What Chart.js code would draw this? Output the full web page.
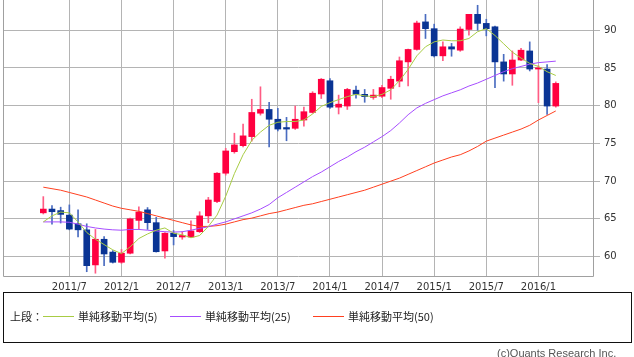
<!DOCTYPE html>
<html><head><meta charset="utf-8">
<script src="https://cdn.jsdelivr.net/npm/chart.js@4"></script>
<style>
body{margin:0;background:#fff;}
#wrap{position:relative;width:634px;height:357px;overflow:hidden;background:#fff;}
#c{position:absolute;left:0;top:0;}
#lbox{position:absolute;left:3px;top:292px;width:627px;height:49px;border:1px solid #111;}
.t{position:absolute;top:308px;font-family:"Noto Sans CJK JP","Noto Sans";font-size:11px;line-height:16px;color:#222;white-space:nowrap;}
.ln{position:absolute;top:316px;height:1px;width:31px;}
#copy{position:absolute;left:497px;top:347px;font-family:"Liberation Sans";font-size:11px;color:#555;white-space:nowrap;}
</style></head>
<body><div id="wrap">
<canvas id="c" width="634" height="295"></canvas>
<div id="lbox"></div>
<div class="t" style="left:10px">上段：</div>
<div class="ln" style="left:43px;background:#a8cc44"></div>
<div class="t" style="left:78px">単純移動平均(5)</div>
<div class="ln" style="left:170px;background:#a64dff"></div>
<div class="t" style="left:205px">単純移動平均(25)</div>
<div class="ln" style="left:313px;background:#ff4020"></div>
<div class="t" style="left:348px">単純移動平均(50)</div>
<div id="copy">(c)Quants Research Inc.</div>
</div>
<script>
const months = ['2011/4','2011/5','2011/6','2011/7','2011/8','2011/9','2011/10','2011/11','2011/12',
'2012/1','2012/2','2012/3','2012/4','2012/5','2012/6','2012/7','2012/8','2012/9','2012/10','2012/11','2012/12',
'2013/1','2013/2','2013/3','2013/4','2013/5','2013/6','2013/7','2013/8','2013/9','2013/10','2013/11','2013/12',
'2014/1','2014/2','2014/3','2014/4','2014/5','2014/6','2014/7','2014/8','2014/9','2014/10','2014/11','2014/12',
'2015/1','2015/2','2015/3','2015/4','2015/5','2015/6','2015/7','2015/8','2015/9','2015/10','2015/11','2015/12',
'2016/1','2016/2','2016/3'];
const openP  = [65.8,66.3,66.1,65.5,64.35,63.55,58.9,62.3,60.6,59.25,60.45,64.8,66.2,64.5,60.75,63.1,62.6,62.6,63.3,65.4,67.3,71.05,73.9,74.7,75.9,79.0,79.5,78.2,77.1,77.0,78.1,79.1,81.55,83.3,79.8,79.95,82.05,81.5,81.1,81.25,82.3,83.25,85.8,87.45,91.1,90.2,86.6,87.8,87.35,90.1,92.1,90.9,90.45,85.8,84.2,86.05,87.25,84.85,84.85,79.95];
const highP  = [67.95,66.75,66.55,66.85,66.2,64.35,63.6,62.65,60.8,60.95,65.1,66.6,66.5,65.2,63.2,63.45,63.3,64.75,65.95,67.85,71.15,74.35,76.35,77.55,80.85,82.5,80.45,79.65,78.45,79.95,79.8,81.85,83.6,83.6,81.4,82.3,82.6,82.15,82.15,82.7,83.9,86.45,87.5,91.2,92.1,90.8,88.45,88.25,90.45,92.1,93.3,91.45,90.55,86.8,87.25,87.6,88.45,85.3,85.45,83.15];
const lowP   = [65.65,64.3,64.45,63.55,62.6,58.0,57.8,58.8,59.15,59.1,60.35,63.6,63.6,60.6,59.8,61.55,62.3,62.5,63.2,64.5,67.15,70.8,73.7,74.55,75.3,78.75,74.55,76.65,75.35,76.85,77.3,79.0,80.95,79.65,78.9,79.5,81.0,80.45,80.85,81.05,80.85,82.5,82.6,87.35,88.9,86.45,85.95,86.55,87.2,89.35,90.0,89.25,82.4,83.25,82.7,85.95,84.6,80.4,78.85,79.8];
const closeP = [66.3,65.95,65.6,63.65,63.55,58.8,62.3,60.35,59.25,60.45,65.0,65.9,64.5,60.65,63.1,62.65,62.8,63.4,65.4,67.5,71.05,74.0,74.8,76.0,79.1,79.5,78.2,76.9,76.9,78.2,79.2,81.65,83.5,79.8,80.2,82.15,81.5,81.2,81.4,82.4,83.5,85.95,87.45,90.95,90.2,86.6,87.8,87.5,90.15,92.1,90.9,90.2,85.8,84.2,86.05,87.35,84.85,85.0,79.95,82.95];
const ma5  = [64.6,65.4,65.9,65.8,64.6,63.2,62.3,61.6,60.9,60.4,61.3,62.4,63.0,63.5,63.8,63.1,62.9,62.5,62.8,64.0,65.5,68.0,71.0,73.5,75.4,76.5,77.4,77.8,77.9,77.9,78.1,78.9,79.9,80.4,80.8,81.2,81.5,81.3,81.2,81.5,82.1,83.3,84.8,86.6,87.8,88.45,88.7,88.6,88.6,88.9,89.8,90.2,89.3,88.2,87.1,86.3,85.6,85.2,84.5,84.0];
const ma25 = [64.6,64.6,64.6,64.55,64.3,64.0,63.8,63.65,63.55,63.5,63.6,63.6,63.5,63.4,63.3,63.25,63.3,63.5,63.75,63.95,64.3,64.6,65.0,65.4,65.8,66.3,66.9,67.8,68.5,69.2,69.9,70.6,71.2,71.9,72.6,73.2,73.9,74.5,75.2,75.9,76.7,77.7,78.8,79.7,80.3,80.8,81.3,81.7,82.1,82.6,83.0,83.5,84.0,84.5,84.9,85.2,85.5,85.7,85.8,85.9];
const ma50 = [69.2,69.0,68.8,68.5,68.2,67.9,67.5,67.1,66.7,66.4,66.2,66.0,65.7,65.4,65.1,64.8,64.5,64.2,64.0,64.0,64.1,64.3,64.6,64.9,65.1,65.4,65.7,65.9,66.2,66.5,66.8,67.0,67.3,67.6,67.9,68.2,68.5,68.8,69.2,69.6,70.0,70.4,70.9,71.4,71.9,72.4,72.8,73.2,73.5,74.0,74.6,75.3,75.7,76.1,76.5,76.9,77.4,78.1,78.7,79.3];
const tickMonths = ['2011/7','2012/1','2012/7','2013/1','2013/7','2014/1','2014/7','2015/1','2015/7','2016/1'];
const yTicks = [60,65,70,75,80,85,90];

const UP='#ff0040', DOWN='#0a3494', UPW='#ff5c84', DOWNW='#4a6cc0';
const up = closeP.map((c,i)=>c>=openP[i]);
const tickIndex = tickMonths.map(m=>months.indexOf(m));
const frame = {id:'frame', beforeDatasetsDraw(ch){
  const a=ch.chartArea, c=ch.ctx; c.save(); c.strokeStyle='#a0a0a0'; c.lineWidth=1;
  c.beginPath(); c.moveTo(a.left+0.5,a.top); c.lineTo(a.left+0.5,a.bottom-0.5); c.lineTo(a.right-0.5,a.bottom-0.5); c.lineTo(a.right-0.5,a.top); c.stroke(); c.restore();}};
const line=(d,col)=>({type:'line',data:d.map((v,i)=>({x:i,y:v})),borderColor:col,borderWidth:1,pointRadius:0,tension:0,order:1});
new Chart(document.getElementById('c'),{
  type:'bar',
  data:{datasets:[
    line(ma5,'#a8cc44'), line(ma25,'#a64dff'), line(ma50,'#ff4020'),
    {data:months.map((m,i)=>({x:i,y:[openP[i],closeP[i]]})),backgroundColor:up.map(u=>u?UP:DOWN),barThickness:6,grouped:false,order:2,borderWidth:0},
    {data:months.map((m,i)=>({x:i,y:[lowP[i],highP[i]]})),backgroundColor:up.map(u=>u?UPW:DOWNW),barThickness:1,grouped:false,order:3,borderWidth:0}
  ]},
  options:{responsive:false,animation:false,
    layout:{padding:{left:3,top:0,right:0,bottom:0}},
    plugins:{legend:{display:false},tooltip:{enabled:false}},
    scales:{
      x:{type:'linear',min:-4.64,max:63.4,offset:false,
        grid:{color:'#b4b4b4',lineWidth:1,drawTicks:false,offset:false},
        border:{display:false},
        afterBuildTicks:s=>{s.ticks=tickIndex.map(v=>({value:v}));},
        ticks:{autoSkip:false,maxRotation:0,padding:4,color:'#333',font:{family:'DejaVu Sans',size:10},callback:v=>months[v]},
        afterFit:s=>{s.height=18;s.paddingLeft=0;s.paddingRight=0;}},
      y:{position:'right',min:57.3,max:94,
        grid:{color:'#b4b4b4',lineWidth:1,tickLength:6},
        border:{display:false},
        afterBuildTicks:s=>{s.ticks=yTicks.map(v=>({value:v}));},
        ticks:{padding:4,color:'#333',font:{family:'DejaVu Sans',size:10}},
        afterFit:s=>{s.width=40;s.paddingTop=0;s.paddingBottom=0;}}
    }},
  plugins:[frame]
});
</script></body></html>
